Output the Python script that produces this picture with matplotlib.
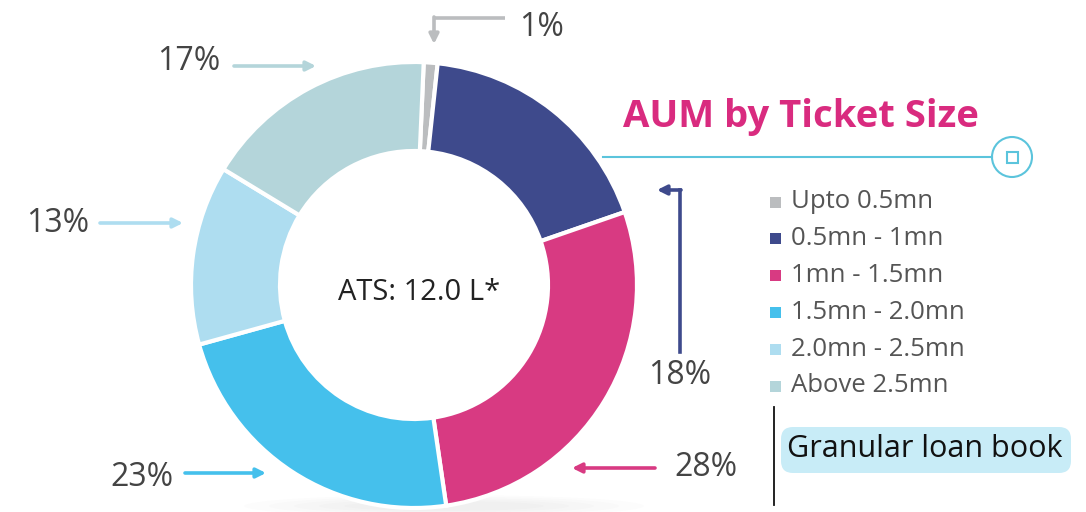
import numpy as np
import matplotlib.pyplot as plt
from matplotlib.patches import Rectangle, Circle, FancyBboxPatch, Ellipse

plt.rcParams['font.family'] = ['Open Sans', 'DejaVu Sans']

# data
categories = ['Upto 0.5mn', '0.5mn - 1mn', '1mn - 1.5mn', '1.5mn - 2.0mn', '2.0mn - 2.5mn', 'Above 2.5mn']
shares = [1, 18, 28, 23, 13, 17]
colors = ['#BBBDBF', '#3E4A8C', '#D83A82', '#45C0EC', '#AEDDF0', '#B4D5DA']
pct_labels = ['1%', '18%', '28%', '23%', '13%', '17%']
title = 'AUM by Ticket Size'
center_text = 'ATS: 12.0 L*'
note_text = 'Granular loan book'

W, H = 1086, 512
fig = plt.figure(figsize=(W / 100, H / 100), dpi=100)
ax = fig.add_axes([0, 0, 1, 1])

cx, cy, R = 414, H - 285, 223

# soft shadow under the ring
for k in range(5):
    ax.add_patch(Ellipse((cx + 30, cy - R + 2), 400 - k * 50, 22 - k * 3,
                         facecolor='#000000', alpha=0.01, edgecolor='none', zorder=0))

ax.pie(shares, colors=colors, startangle=87.5, counterclock=False,
       radius=R, center=(cx, cy),
       wedgeprops=dict(width=89, edgecolor='white', linewidth=3))
ax.set_xlim(0, W)
ax.set_ylim(0, H)
ax.set_aspect('equal')
ax.axis('off')

ax.text(cx + 5, cy - 8, center_text, ha='center', va='center', fontsize=21, color='#222222')

pct_style = dict(fontsize=23, color='#444444', va='center')


def arrow(x0, y0, x1, y1, color):
    ax.annotate('', xy=(x1, H - y1), xytext=(x0, H - y0),
                arrowprops=dict(arrowstyle='-|>', color=color, lw=2.6,
                                mutation_scale=14, shrinkA=0, shrinkB=0))


# 1% (elbow arrow)
ax.plot([505, 434], [H - 18, H - 18], color=colors[0], lw=2.6, solid_capstyle='butt')
arrow(434, 17, 434, 44, colors[0])
ax.text(519, H - 27, pct_labels[0], ha='left', **pct_style)

# 18% (elbow arrow)
ax.plot([680, 680], [H - 352, H - 190], color=colors[1], lw=2.6)
arrow(681, 190, 657, 190, colors[1])
ax.text(680, H - 376, pct_labels[1], ha='center', **pct_style)

# 28%
arrow(655, 468, 572, 468, colors[2])
ax.text(674, H - 468, pct_labels[2], ha='left', **pct_style)

# 23%
arrow(185, 473, 266, 473, colors[3])
ax.text(174, H - 477, pct_labels[3], ha='right', **pct_style)

# 13%
arrow(100, 223, 183, 223, colors[4])
ax.text(89, H - 223, pct_labels[4], ha='right', **pct_style)

# 17%
arrow(234, 66, 316, 66, colors[5])
ax.text(220, H - 62, pct_labels[5], ha='right', **pct_style)

# title with connector line
ax.text(801, H - 117, title, ha='center', va='center', fontsize=27.5,
        fontweight='bold', color='#D92B7F')
ax.plot([603, 992], [H - 157, H - 157], color='#5BC4DC', lw=1.5)
ax.add_patch(Circle((1012, H - 157), 20, facecolor='white', edgecolor='#5BC4DC', lw=1.5))
ax.add_patch(Rectangle((1006.5, H - 162.5), 11, 11, facecolor='white', edgecolor='#5BC4DC', lw=1.5))

# legend
for i, (lab, col) in enumerate(zip(categories, colors)):
    y = 202 + i * 36.8
    ax.add_patch(Rectangle((770, H - y - 5.5), 11, 11, facecolor=col, edgecolor='none'))
    ax.text(791, H - y, lab, ha='left', va='center', fontsize=18.5, color='#555555')

# note box
ax.plot([774, 774], [H - 407, H - 505], color='#111111', lw=1.3)
ax.add_patch(FancyBboxPatch((781, H - 473), 290, 46,
                            boxstyle='round,pad=0,rounding_size=12',
                            facecolor='#C8ECF7', edgecolor='none'))
ax.text(925, H - 449, note_text, ha='center', va='center', fontsize=22, color='#111111')

fig.savefig('out.png', dpi=100)
